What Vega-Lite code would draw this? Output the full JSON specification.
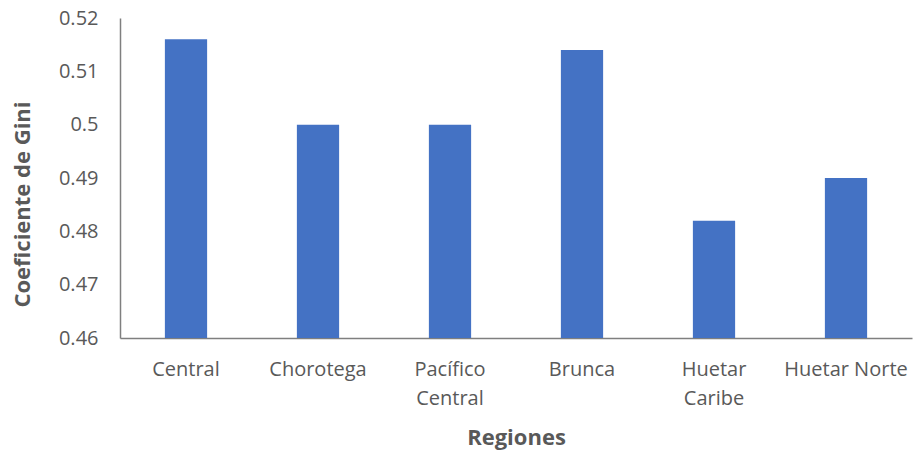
{
  "$schema": "https://vega.github.io/schema/vega-lite/v6.json",
  "autosize": "none",
  "width": 792,
  "height": 320,
  "padding": {"left": 120, "top": 18, "right": 2, "bottom": 115},
  "background": "white",
  "config": {"view": {"stroke": null}, "font": "Open Sans"},
  "data": {"values": [
    {"region": "Central", "gini": 0.516},
    {"region": "Chorotega", "gini": 0.500},
    {"region": "Pacífico Central", "gini": 0.500},
    {"region": "Brunca", "gini": 0.514},
    {"region": "Huetar Caribe", "gini": 0.482},
    {"region": "Huetar Norte", "gini": 0.490}
  ]},
  "mark": {"type": "bar", "color": "#4472C4", "clip": true},
  "encoding": {
    "x": {
      "field": "region", "type": "nominal", "sort": null,
      "scale": {"paddingInner": 0.68, "paddingOuter": 0.34},
      "axis": {
        "title": "Regiones", "labelAngle": 0, "ticks": false,
        "domainColor": "#7f7f7f", "domainWidth": 1.5,
        "labelColor": "#595959", "labelFontSize": 20, "labelPadding": 21,
        "labelBaseline": "top", "labelLineHeight": 29,
        "labelExpr": "datum.value == 'Pacífico Central' ? ['Pacífico', 'Central'] : datum.value == 'Huetar Caribe' ? ['Huetar', 'Caribe'] : datum.value",
        "titleColor": "#595959", "titleFontSize": 22, "titleFontWeight": "bold",
        "titleY": 99, "titleBaseline": "middle"
      }
    },
    "y": {
      "field": "gini", "type": "quantitative",
      "scale": {"domain": [0.46, 0.52], "zero": false, "nice": false},
      "axis": {
        "title": "Coeficiente de Gini", "values": [0.46, 0.47, 0.48, 0.49, 0.5, 0.51, 0.52],
        "format": ".2~f", "grid": false, "ticks": false,
        "domainColor": "#7f7f7f", "domainWidth": 1.5,
        "labelColor": "#595959", "labelFontSize": 20, "labelPadding": 22,
        "titleColor": "#595959", "titleFontSize": 22, "titleFontWeight": "bold",
        "titleX": -98, "titleY": 186, "titleAngle": -90, "titleBaseline": "middle", "titleAlign": "center"
      }
    }
  }
}
